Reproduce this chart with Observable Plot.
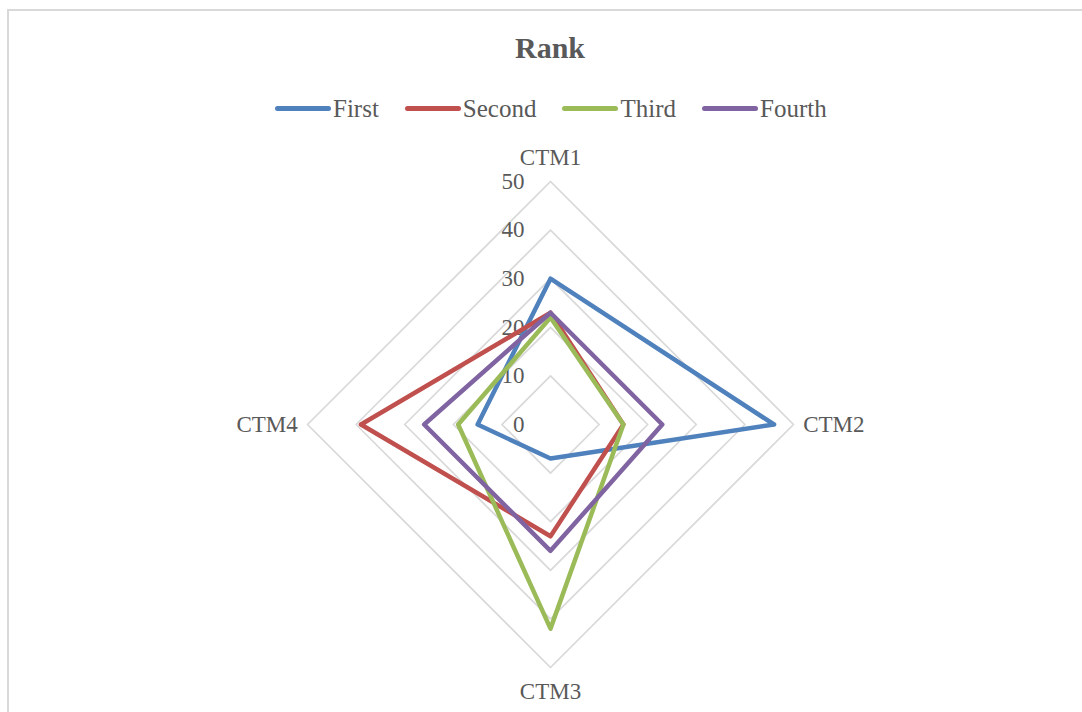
<!DOCTYPE html>
<html>
<head>
<meta charset="utf-8">
<script src="https://cdn.jsdelivr.net/npm/d3@7"></script>
<script src="https://cdn.jsdelivr.net/npm/@observablehq/plot@0.6"></script>
<style>
  html, body { margin: 0; padding: 0; background: #fff; overflow: hidden; }
  body { width: 1082px; height: 712px; position: relative; font-family: "Liberation Serif", serif; color: #595959; }
  #frame { position: absolute; left: 7px; top: 9px; width: 1075px; height: 703px; border-left: 2px solid #d9d9d9; border-top: 2px solid #d9d9d9; box-sizing: border-box; }
  #title { position: absolute; left: 0; width: 1100px; top: 33px; text-align: center; font-size: 30px; font-weight: bold; line-height: 1; }
  #legend { position: absolute; left: 275px; top: 96px; display: flex; gap: 26px; font-size: 25px; line-height: 1; }
  .item { display: flex; align-items: center; gap: 2px; }
  .sw { display: inline-block; width: 56px; height: 5px; border-radius: 3px; }
  #chart { position: absolute; left: 0; top: 130px; }
</style>
</head>
<body>
<div id="frame"></div>
<div id="title">Rank</div>
<div id="legend"></div>
<div id="chart"></div>
<script>
const categories = ["CTM1", "CTM2", "CTM3", "CTM4"];
const seriesNames = ["First", "Second", "Third", "Fourth"];
const seriesColors = ["#4f81bd", "#c0504d", "#9bbb59", "#8064a2"];
const first  = [30, 46, 7, 15];
const second = [23, 15, 23, 39];
const third  = [22, 15, 42, 19];
const fourth = [23, 23, 26, 26];
const ticks = [0, 10, 20, 30, 40, 50];

const seriesValues = [first, second, third, fourth];
const angle = i => i * Math.PI / 2;
const px = (v, i) => v * Math.sin(angle(i));
const py = (v, i) => v * Math.cos(angle(i));

const points = [];
seriesNames.forEach((s, si) => {
  seriesValues[si].forEach((v, i) => points.push({series: s, cat: categories[i], i, v}));
});
const rings = [];
ticks.filter(t => t > 0).forEach(t => categories.forEach((c, i) => rings.push({ring: t, i})));
const labelData = categories.map((c, i) => ({c, i}));

// legend
const legend = document.getElementById("legend");
seriesNames.forEach((s, si) => {
  const it = document.createElement("div");
  it.className = "item";
  const sw = document.createElement("span");
  sw.className = "sw";
  sw.style.background = seriesColors[si];
  const tx = document.createElement("span");
  tx.textContent = s;
  it.appendChild(sw); it.appendChild(tx);
  legend.appendChild(it);
});

const labelOpts = (anchor, filter) => ({
  filter,
  x: d => px(d.i % 2 ? 52 : 0, d.i),
  y: d => py(d.i % 2 ? 0 : 55, d.i),
  text: "c",
  textAnchor: anchor,
  fontSize: 23, fill: "#595959"
});

const cx = 550, cy = 294, R = 243;
const chart = Plot.plot({
  width: 1082,
  height: 582,
  style: {fontFamily: "Liberation Serif, serif", background: "transparent", overflow: "visible"},
  x: {domain: [-50, 50], range: [cx - R, cx + R], axis: null},
  y: {domain: [-50, 50], range: [cy + R, cy - R], axis: null},
  color: {domain: seriesNames, range: seriesColors},
  marks: [
    Plot.line(rings, {x: d => px(d.ring, d.i), y: d => py(d.ring, d.i), z: "ring", curve: "linear-closed", stroke: "#d9d9d9", strokeWidth: 1.75}),
    Plot.text(ticks, {x: 0, y: d => d, dx: -26, textAnchor: "end", text: d => String(d), fontSize: 23, fill: "#595959"}),
    Plot.line(points, {x: d => px(d.v, d.i), y: d => py(d.v, d.i), z: "series", stroke: "series", curve: "linear-closed", strokeWidth: 4.5, strokeLinejoin: "round"}),
    Plot.text(labelData, labelOpts("middle", d => d.i % 2 === 0)),
    Plot.text(labelData, labelOpts("start", d => d.i === 1)),
    Plot.text(labelData, labelOpts("end", d => d.i === 3))
  ]
});
document.getElementById("chart").appendChild(chart);
</script>
</body>
</html>
